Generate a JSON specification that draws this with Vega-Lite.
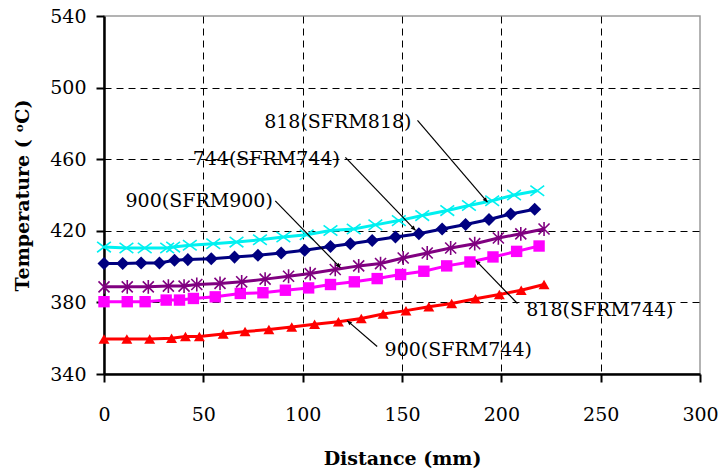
{
  "$schema": "https://vega.github.io/schema/vega-lite/v6.json",
  "width": 596,
  "height": 358,
  "autosize": {"type": "none"},
  "padding": {"left": 104, "top": 16, "right": 22, "bottom": 99},
  "background": "white",
  "config": {
    "view": {"stroke": "#9a9a9a", "strokeWidth": 1.5},
    "font": "DejaVu Serif",
    "axis": {
      "labelFont": "DejaVu Serif",
      "labelFontSize": 19,
      "labelColor": "black",
      "labelFlush": false,
      "titleFont": "DejaVu Serif",
      "titleFontSize": 19,
      "titleFontWeight": "bold",
      "titleColor": "black",
      "domainColor": "black",
      "domainWidth": 2.5,
      "tickColor": "black",
      "tickWidth": 2,
      "tickSize": 8,
      "gridColor": "black",
      "gridWidth": 1,
      "gridDash": [7, 5]
    }
  },
  "datasets": {
    "curves": [
      {"series": "900(SFRM744)", "d": 0, "t": 359.5},
      {"series": "900(SFRM744)", "d": 11.5, "t": 359.5},
      {"series": "900(SFRM744)", "d": 23, "t": 359.5},
      {"series": "900(SFRM744)", "d": 34, "t": 360},
      {"series": "900(SFRM744)", "d": 41, "t": 361},
      {"series": "900(SFRM744)", "d": 48, "t": 361},
      {"series": "900(SFRM744)", "d": 60, "t": 362.4},
      {"series": "900(SFRM744)", "d": 71, "t": 363.7},
      {"series": "900(SFRM744)", "d": 83, "t": 364.8},
      {"series": "900(SFRM744)", "d": 94.5, "t": 366.3},
      {"series": "900(SFRM744)", "d": 106, "t": 367.8},
      {"series": "900(SFRM744)", "d": 118, "t": 369.2},
      {"series": "900(SFRM744)", "d": 129.5, "t": 371},
      {"series": "900(SFRM744)", "d": 140.5, "t": 373.5},
      {"series": "900(SFRM744)", "d": 152, "t": 375.4},
      {"series": "900(SFRM744)", "d": 163.5, "t": 377.6},
      {"series": "900(SFRM744)", "d": 175, "t": 379.4},
      {"series": "900(SFRM744)", "d": 187, "t": 382},
      {"series": "900(SFRM744)", "d": 199, "t": 384.4},
      {"series": "900(SFRM744)", "d": 210, "t": 386.8},
      {"series": "900(SFRM744)", "d": 221.5, "t": 390},

      {"series": "818(SFRM744)", "d": 0, "t": 380.4},
      {"series": "818(SFRM744)", "d": 11.7, "t": 380.4},
      {"series": "818(SFRM744)", "d": 20.7, "t": 380.4},
      {"series": "818(SFRM744)", "d": 31.3, "t": 381.3},
      {"series": "818(SFRM744)", "d": 38, "t": 381.3},
      {"series": "818(SFRM744)", "d": 45, "t": 382.2},
      {"series": "818(SFRM744)", "d": 56, "t": 383.1},
      {"series": "818(SFRM744)", "d": 68.6, "t": 385},
      {"series": "818(SFRM744)", "d": 80, "t": 385.4},
      {"series": "818(SFRM744)", "d": 91.3, "t": 386.8},
      {"series": "818(SFRM744)", "d": 103, "t": 388.1},
      {"series": "818(SFRM744)", "d": 114, "t": 390},
      {"series": "818(SFRM744)", "d": 126, "t": 391.5},
      {"series": "818(SFRM744)", "d": 137.5, "t": 393.3},
      {"series": "818(SFRM744)", "d": 149.3, "t": 395.6},
      {"series": "818(SFRM744)", "d": 161, "t": 397.4},
      {"series": "818(SFRM744)", "d": 172.5, "t": 400.4},
      {"series": "818(SFRM744)", "d": 184.2, "t": 402.6},
      {"series": "818(SFRM744)", "d": 195.8, "t": 405.4},
      {"series": "818(SFRM744)", "d": 207.7, "t": 408.5},
      {"series": "818(SFRM744)", "d": 219, "t": 411.5},

      {"series": "900(SFRM900)", "d": 0, "t": 388.7},
      {"series": "900(SFRM900)", "d": 11.7, "t": 388.7},
      {"series": "900(SFRM900)", "d": 22.3, "t": 388.7},
      {"series": "900(SFRM900)", "d": 32.4, "t": 389.1},
      {"series": "900(SFRM900)", "d": 40.3, "t": 389.1},
      {"series": "900(SFRM900)", "d": 46.7, "t": 390},
      {"series": "900(SFRM900)", "d": 58.4, "t": 390.6},
      {"series": "900(SFRM900)", "d": 69.3, "t": 391.5},
      {"series": "900(SFRM900)", "d": 81.1, "t": 393},
      {"series": "900(SFRM900)", "d": 92.9, "t": 394.6},
      {"series": "900(SFRM900)", "d": 103.8, "t": 396.1},
      {"series": "900(SFRM900)", "d": 116.4, "t": 398.4},
      {"series": "900(SFRM900)", "d": 128.2, "t": 400.4},
      {"series": "900(SFRM900)", "d": 139.2, "t": 401.7},
      {"series": "900(SFRM900)", "d": 150.6, "t": 404.8},
      {"series": "900(SFRM900)", "d": 162.7, "t": 407.6},
      {"series": "900(SFRM900)", "d": 174.5, "t": 410.4},
      {"series": "900(SFRM900)", "d": 186.6, "t": 412.8},
      {"series": "900(SFRM900)", "d": 198.5, "t": 416},
      {"series": "900(SFRM900)", "d": 209.8, "t": 418.3},
      {"series": "900(SFRM900)", "d": 221.5, "t": 421},

      {"series": "744(SFRM744)", "d": 0, "t": 401.7},
      {"series": "744(SFRM744)", "d": 9.4, "t": 401.7},
      {"series": "744(SFRM744)", "d": 18.7, "t": 402},
      {"series": "744(SFRM744)", "d": 27.9, "t": 402},
      {"series": "744(SFRM744)", "d": 35.5, "t": 403.5},
      {"series": "744(SFRM744)", "d": 42.2, "t": 403.9},
      {"series": "744(SFRM744)", "d": 54, "t": 404.4},
      {"series": "744(SFRM744)", "d": 65.7, "t": 405.3},
      {"series": "744(SFRM744)", "d": 77.5, "t": 406.3},
      {"series": "744(SFRM744)", "d": 89.2, "t": 407.6},
      {"series": "744(SFRM744)", "d": 101, "t": 409.1},
      {"series": "744(SFRM744)", "d": 114, "t": 411.2},
      {"series": "744(SFRM744)", "d": 124, "t": 412.8},
      {"series": "744(SFRM744)", "d": 135, "t": 414.6},
      {"series": "744(SFRM744)", "d": 146.7, "t": 416.5},
      {"series": "744(SFRM744)", "d": 158.5, "t": 418.3},
      {"series": "744(SFRM744)", "d": 170.2, "t": 421},
      {"series": "744(SFRM744)", "d": 182, "t": 423.5},
      {"series": "744(SFRM744)", "d": 193.8, "t": 426.3},
      {"series": "744(SFRM744)", "d": 204.7, "t": 429.4},
      {"series": "744(SFRM744)", "d": 216.8, "t": 432},

      {"series": "818(SFRM818)", "d": 0, "t": 410.9},
      {"series": "818(SFRM818)", "d": 11.3, "t": 410.4},
      {"series": "818(SFRM818)", "d": 20.5, "t": 410.4},
      {"series": "818(SFRM818)", "d": 31.8, "t": 410.4},
      {"series": "818(SFRM818)", "d": 34.8, "t": 410.9},
      {"series": "818(SFRM818)", "d": 43.2, "t": 411.9},
      {"series": "818(SFRM818)", "d": 55, "t": 412.8},
      {"series": "818(SFRM818)", "d": 66.7, "t": 413.7},
      {"series": "818(SFRM818)", "d": 78.5, "t": 415},
      {"series": "818(SFRM818)", "d": 90.3, "t": 416.5},
      {"series": "818(SFRM818)", "d": 102, "t": 417.8},
      {"series": "818(SFRM818)", "d": 114, "t": 420.2},
      {"series": "818(SFRM818)", "d": 125.7, "t": 421},
      {"series": "818(SFRM818)", "d": 136.6, "t": 423.3},
      {"series": "818(SFRM818)", "d": 148.4, "t": 425.7},
      {"series": "818(SFRM818)", "d": 160.2, "t": 428.5},
      {"series": "818(SFRM818)", "d": 172.8, "t": 431.3},
      {"series": "818(SFRM818)", "d": 183.7, "t": 434.1},
      {"series": "818(SFRM818)", "d": 195.4, "t": 436.8},
      {"series": "818(SFRM818)", "d": 206.4, "t": 440},
      {"series": "818(SFRM818)", "d": 218.1, "t": 442.4}
    ],
    "callouts": [
      {"label": "818(SFRM818)", "tx": 117.7, "ty": 480.6, "x1": 157.8, "y1": 481.7, "x2": 193, "y2": 436},
      {"label": "744(SFRM744)", "tx": 81.7, "ty": 460, "x1": 121.5, "y1": 461, "x2": 156.8, "y2": 420.2},
      {"label": "900(SFRM900)", "tx": 47.9, "ty": 436.8, "x1": 86.2, "y1": 436.7, "x2": 119, "y2": 399.4},
      {"label": "818(SFRM744)", "tx": 249.6, "ty": 375.7, "x1": 208.1, "y1": 379.4, "x2": 187.1, "y2": 403.5},
      {"label": "900(SFRM744)", "tx": 178.3, "ty": 353.5, "x1": 137.5, "y1": 355.4, "x2": 122.4, "y2": 369.8}
    ]
  },
  "layer": [
    {
      "data": {"name": "curves"},
      "mark": {"type": "line", "strokeWidth": 3, "clip": true},
      "encoding": {
        "x": {
          "field": "d", "type": "quantitative",
          "scale": {"domain": [0, 300], "nice": false, "zero": false},
          "axis": {
            "title": "Distance (mm)",
            "values": [0, 50, 100, 150, 200, 250, 300],
            "labelPadding": 23,
            "titlePadding": 25,
            "gridOpacity": {"condition": {"test": "datum.value === 300 || datum.value === 0", "value": 0}, "value": 1}
          }
        },
        "y": {
          "field": "t", "type": "quantitative",
          "scale": {"domain": [340, 540], "nice": false, "zero": false},
          "axis": {
            "title": "Temperature ( ᵒC)",
            "values": [340, 380, 420, 460, 500, 540],
            "labelPadding": 10,
            "titlePadding": 17,
            "gridOpacity": {"condition": {"test": "datum.value === 540 || datum.value === 340", "value": 0}, "value": 1}
          }
        },
        "color": {
          "field": "series", "type": "nominal", "legend": null,
          "scale": {
            "domain": ["900(SFRM744)", "818(SFRM744)", "900(SFRM900)", "744(SFRM744)", "818(SFRM818)"],
            "range": ["#ff0000", "#ff00ff", "#800080", "#000080", "#00f0f0"]
          }
        },
        "detail": {"field": "series"}
      }
    },
    {
      "data": {"name": "curves"},
      "transform": [{"filter": "datum.series === '900(SFRM744)'"}],
      "mark": {"type": "point", "filled": true, "opacity": 1, "strokeWidth": 0, "shape": "triangle-up", "size": 120, "color": "#ff0000"},
      "encoding": {
        "x": {"field": "d", "type": "quantitative"},
        "y": {"field": "t", "type": "quantitative"}
      }
    },
    {
      "data": {"name": "curves"},
      "transform": [{"filter": "datum.series === '818(SFRM744)'"}],
      "mark": {"type": "point", "filled": true, "opacity": 1, "strokeWidth": 0, "shape": "square", "size": 130, "color": "#ff00ff"},
      "encoding": {
        "x": {"field": "d", "type": "quantitative"},
        "y": {"field": "t", "type": "quantitative"}
      }
    },
    {
      "data": {"name": "curves"},
      "transform": [{"filter": "datum.series === '744(SFRM744)'"}],
      "mark": {"type": "point", "filled": true, "opacity": 1, "strokeWidth": 0, "shape": "diamond", "size": 170, "color": "#000080"},
      "encoding": {
        "x": {"field": "d", "type": "quantitative"},
        "y": {"field": "t", "type": "quantitative"}
      }
    },
    {
      "data": {"name": "curves"},
      "transform": [{"filter": "datum.series === '900(SFRM900)'"}],
      "mark": {"type": "point", "filled": false, "opacity": 1, "strokeWidth": 1.6, "shape": "M-0.8,-0.8L0.8,0.8M-0.8,0.8L0.8,-0.8M0,-1L0,1", "size": 190, "color": "#800080"},
      "encoding": {
        "x": {"field": "d", "type": "quantitative"},
        "y": {"field": "t", "type": "quantitative"}
      }
    },
    {
      "data": {"name": "curves"},
      "transform": [{"filter": "datum.series === '818(SFRM818)'"}],
      "mark": {"type": "point", "filled": false, "opacity": 1, "strokeWidth": 1.6, "shape": "M-1,-0.75L1,0.75M-1,0.75L1,-0.75", "size": 190, "color": "#00f0f0"},
      "encoding": {
        "x": {"field": "d", "type": "quantitative"},
        "y": {"field": "t", "type": "quantitative"}
      }
    },
    {
      "data": {"name": "callouts"},
      "mark": {"type": "rule", "color": "black", "strokeWidth": 1.2},
      "encoding": {
        "x": {"field": "x1", "type": "quantitative"},
        "y": {"field": "y1", "type": "quantitative"},
        "x2": {"field": "x2"},
        "y2": {"field": "y2"}
      }
    },
    {
      "data": {"name": "callouts"},
      "transform": [
        {"calculate": "(atan2((datum.x2 - datum.x1) * 596 / 300, (datum.y2 - datum.y1) * 358 / 200) * 180 / PI + 360) % 360", "as": "heading"}
      ],
      "mark": {"type": "point", "filled": true, "color": "black", "opacity": 1, "strokeWidth": 0, "shape": "M0,0L-0.45,1L0.45,1Z", "size": 90},
      "encoding": {
        "x": {"field": "x2", "type": "quantitative"},
        "y": {"field": "y2", "type": "quantitative"},
        "angle": {"field": "heading", "type": "quantitative", "scale": null}
      }
    },
    {
      "data": {"name": "callouts"},
      "mark": {"type": "text", "font": "DejaVu Serif", "fontSize": 19, "color": "black", "align": "center", "baseline": "middle"},
      "encoding": {
        "x": {"field": "tx", "type": "quantitative"},
        "y": {"field": "ty", "type": "quantitative"},
        "text": {"field": "label"}
      }
    }
  ]
}
